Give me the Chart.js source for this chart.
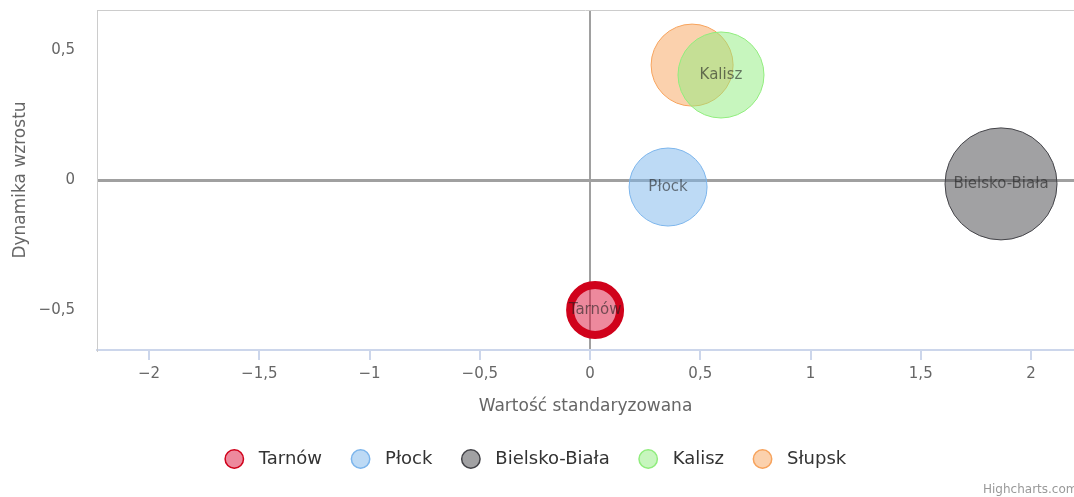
<!DOCTYPE html>
<html>
<head>
<meta charset="utf-8">
<script src="https://cdn.jsdelivr.net/npm/chart.js@4"></script>
<style>
  body { margin: 0; background: #fff; }
  #wrap { width: 1074px; height: 497px; position: relative; }
</style>
</head>
<body>
<div id="wrap"><canvas id="myChart"></canvas></div>
<script>
// data
const cities = ["Tarnów", "Płock", "Bielsko-Biała", "Kalisz", "Słupsk"];
const xValues = [0.023, 0.354, 1.864, 0.594, 0.463];
const yValues = [-0.5, -0.027, -0.015, 0.404, 0.442];
const sizes = [25, 39, 56, 43, 41];
const showLabel = [true, true, true, true, false]; // Słupsk label hidden (overlaps Kalisz)
const fillColors = ["rgba(220,20,60,0.5)", "rgba(124,181,236,0.5)", "rgba(67,67,72,0.5)", "rgba(144,237,125,0.5)", "rgba(247,163,92,0.5)"];
const lineColors = ["#d0021b", "#7cb5ec", "#434348", "#90ed7d", "#f7a35c"];
const lineWidths = [8, 1, 1, 1, 1];

const font = "'DejaVu Sans', sans-serif";

function fmt(v) {
  let s = String(Math.round(v * 100) / 100).replace(".", ",");
  return s.replace("-", "\u2212");
}

const bubbleLabels = {
  id: "bubbleLabels",
  afterDatasetsDraw(chart) {
    const ctx = chart.ctx;
    ctx.save();
    ctx.font = "15px " + font;
    ctx.fillStyle = "rgba(30,30,30,0.6)";
    ctx.textAlign = "center";
    ctx.textBaseline = "middle";
    chart.data.datasets.forEach((ds, i) => {
      const pt = chart.getDatasetMeta(i).data[0];
      if (pt && showLabel[i]) ctx.fillText(ds.label, pt.x, pt.y);
    });
    ctx.restore();
  }
};

const frame = {
  id: "frame",
  afterDraw(chart) {
    const ctx = chart.ctx;
    const a = chart.chartArea;
    ctx.save();
    ctx.strokeStyle = "#ccc";
    ctx.lineWidth = 1;
    ctx.beginPath();
    ctx.moveTo(a.left, a.top + 0.5);
    ctx.lineTo(a.right, a.top + 0.5);
    ctx.stroke();
    ctx.font = "12px " + font;
    ctx.fillStyle = "#999";
    ctx.textBaseline = "middle";
    ctx.fillText("Highcharts.com", 983, 490);
    ctx.restore();
  }
};

function initChart(target) {
  const datasets = cities.map((name, i) => ({
    label: name,
    data: [{ x: xValues[i], y: yValues[i], r: sizes[i] }],
    backgroundColor: fillColors[i],
    borderColor: lineColors[i],
    borderWidth: lineWidths[i],
    hoverRadius: 0
  }));
  return new Chart(target, {
    type: "bubble",
    data: { datasets: datasets },
    options: {
      responsive: false,
      animation: false,
      clip: false,
      layout: { autoPadding: false, padding: { top: 10, right: 0, left: 0, bottom: 19 } },
      scales: {
        x: {
          type: "linear",
          min: -2.236,
          max: 2.195,
          afterFit: (s) => { s.height = 68; s.paddingLeft = 0; s.paddingRight = 0; },
          ticks: {
            stepSize: 0.5,
            includeBounds: false,
            color: "#666",
            font: { family: font, size: 15 },
            padding: 5,
            maxRotation: 0,
            callback: (v) => fmt(v)
          },
          grid: {
            color: (c) => (c.tick && c.tick.value === 0 ? "#a0a0a0" : "rgba(0,0,0,0)"),
            lineWidth: 2,
            tickColor: "#ccd6eb",
            tickLength: 10
          },
          border: { color: "#ccd6eb", width: 2 },
          title: {
            display: true,
            text: "Wartość standaryzowana",
            color: "#666",
            font: { family: font, size: 17 },
            padding: { top: 4, bottom: 1 }
          }
        },
        y: {
          type: "linear",
          min: -0.654,
          max: 0.654,
          afterFit: (s) => { s.width = 97; s.paddingTop = 0; s.paddingBottom = 0; },
          ticks: {
            stepSize: 0.5,
            includeBounds: false,
            color: "#666",
            font: { family: font, size: 15 },
            padding: 22,
            callback: (v) => fmt(v)
          },
          grid: {
            color: (c) => (c.tick && c.tick.value === 0 ? "#a0a0a0" : "rgba(0,0,0,0)"),
            lineWidth: 3,
            drawTicks: false
          },
          border: { color: "#ccc", width: 1 },
          title: {
            display: true,
            text: "Dynamika wzrostu",
            color: "#666",
            font: { family: font, size: 17 },
            padding: { top: 10, bottom: 0 }
          }
        }
      },
      plugins: {
        legend: {
          position: "bottom",
          labels: {
            usePointStyle: true,
            pointStyle: "circle",
            boxWidth: 13,
            boxHeight: 13,
            padding: 32,
            color: "#333",
            font: { family: font, size: 18 },
            generateLabels: (chart) =>
              chart.data.datasets.map((ds, i) => ({
                text: "\u2002" + ds.label,
                fillStyle: ds.backgroundColor,
                strokeStyle: ds.borderColor,
                lineWidth: 1.5,
                pointStyle: "circle",
                fontColor: "#333",
                hidden: !chart.isDatasetVisible(i),
                datasetIndex: i
              }))
          }
        },
        tooltip: { enabled: false }
      }
    },
    plugins: [bubbleLabels, frame]
  });
}

document.addEventListener("DOMContentLoaded", () => {
  const canvas = document.querySelector("#myChart");
  canvas.width = 1074;
  canvas.height = 497;
  initChart(canvas);
});
</script>
</body>
</html>
